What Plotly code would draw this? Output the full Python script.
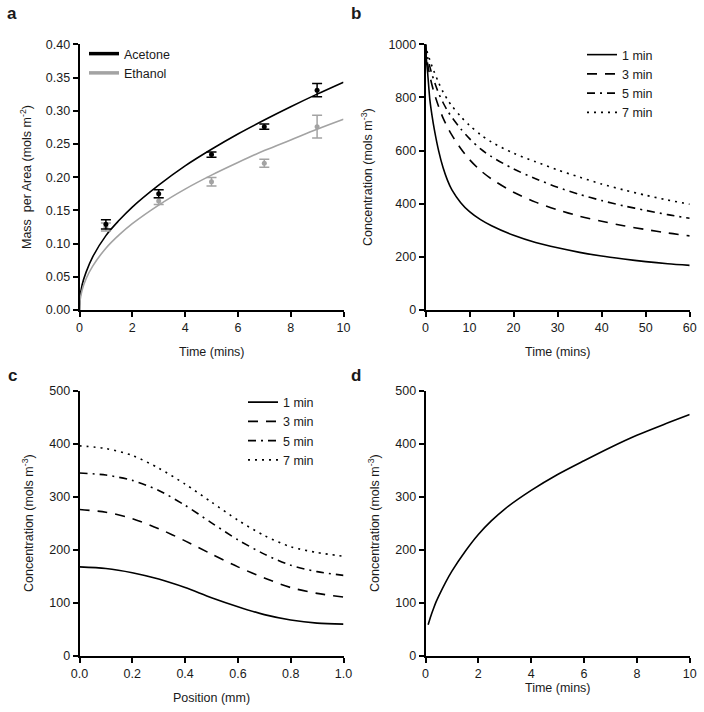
import plotly.graph_objects as go

# ---------------- data ----------------
# Panel a: measured points and fitted curves
pts_time = [1, 3, 5, 7, 9]
acetone_mean = [0.129, 0.175, 0.234, 0.276, 0.331]
acetone_err = [0.007, 0.006, 0.004, 0.004, 0.010]
ethanol_mean = [0.125, 0.164, 0.193, 0.221, 0.276]
ethanol_err = [0.006, 0.005, 0.0065, 0.006, 0.017]

fit_time = [0, 0.02, 0.1, 0.25, 0.5, 1, 1.5, 2, 3, 4, 5, 6, 7, 8, 9, 10]
acetone_fit = [0, 0.018, 0.038, 0.057, 0.080, 0.112, 0.135, 0.155, 0.188, 0.217,
               0.242, 0.265, 0.286, 0.306, 0.325, 0.343]
ethanol_fit = [0, 0.014, 0.030, 0.047, 0.066, 0.093, 0.113, 0.130, 0.158, 0.182,
               0.203, 0.222, 0.240, 0.256, 0.272, 0.287]

# Panel b: concentration vs time
b_time = [0, 0.25, 0.5, 1, 1.5, 2, 3, 4, 5, 6, 8, 10, 12.5, 15, 20, 25, 30, 35, 40, 45, 50, 55, 60]
b_1min = [1000, 935, 890, 790, 730, 680, 598, 535, 488, 452, 404, 370, 340, 317, 281, 254, 234, 217, 203, 192, 182, 174, 168]
b_3min = [1000, 955, 925, 880, 845, 815, 765, 722, 688, 658, 608, 566, 525, 493, 443, 406, 377, 353, 334, 317, 303, 290, 279]
b_5min = [1000, 970, 950, 915, 885, 860, 815, 780, 750, 725, 682, 645, 606, 577, 531, 494, 462, 435, 412, 392, 375, 359, 345]
b_7min = [1000, 980, 965, 940, 916, 895, 855, 820, 792, 768, 728, 695, 660, 632, 590, 558, 527, 500, 474, 452, 432, 414, 398]

# Panel c: concentration vs position
c_pos = [0, 0.1, 0.2, 0.3, 0.4, 0.5, 0.6, 0.7, 0.8, 0.9, 1.0]
c_1min = [168, 165, 157, 145, 129, 110, 93, 78, 68, 62, 60]
c_3min = [276, 271, 259, 240, 217, 192, 168, 147, 129, 118, 111]
c_5min = [345, 341, 331, 312, 284, 251, 219, 192, 171, 159, 152]
c_7min = [396, 391, 378, 354, 324, 290, 256, 227, 206, 195, 188]

# Panel d: concentration vs time
d_time = [0.1, 0.2, 0.3, 0.4, 0.5, 0.75, 1, 1.5, 2, 2.5, 3, 4, 5, 6, 7, 8, 9, 10]
d_conc = [59, 75, 89, 102, 113, 138, 160, 197, 229, 255, 277, 312, 342, 368, 393, 416, 436, 455]

series_labels = ["1 min", "3 min", "5 min", "7 min"]

# ---------------- styling ----------------
W, H = 704, 712
FONT = "Liberation Sans, Arial, sans-serif"
GREY = "#a3a3a3"
TXT = "#1a1a1a"
dashes = ["solid", "10px,8px", "8px,5px,2px,5px", "2px,5px"]


def px_x(v):
    return v / W


def px_y(v):
    return 1 - v / H


fig = go.Figure()

# ---- panel a ----
fig.add_trace(go.Scatter(x=fit_time, y=acetone_fit, mode="lines", line=dict(color="black", width=1.6, shape="spline"),
                         xaxis="x", yaxis="y", showlegend=False))
fig.add_trace(go.Scatter(x=fit_time, y=ethanol_fit, mode="lines", line=dict(color=GREY, width=1.6, shape="spline"),
                         xaxis="x", yaxis="y", showlegend=False))
fig.add_trace(go.Scatter(x=pts_time, y=ethanol_mean, mode="markers",
                         marker=dict(color=GREY, size=5),
                         error_y=dict(type="data", array=ethanol_err, color=GREY, thickness=1.5, width=5),
                         xaxis="x", yaxis="y", showlegend=False))
fig.add_trace(go.Scatter(x=pts_time, y=acetone_mean, mode="markers",
                         marker=dict(color="black", size=5),
                         error_y=dict(type="data", array=acetone_err, color="black", thickness=1.5, width=5),
                         xaxis="x", yaxis="y", showlegend=False))
# legend entries (thick sample lines)
fig.add_trace(go.Scatter(x=[None], y=[None], mode="lines", name="Acetone",
                         line=dict(color="black", width=3.5), xaxis="x", yaxis="y", legend="legend"))
fig.add_trace(go.Scatter(x=[None], y=[None], mode="lines", name="Ethanol",
                         line=dict(color=GREY, width=3.5), xaxis="x", yaxis="y", legend="legend"))

# ---- panel b ----
for lab, vals, dsh in zip(series_labels, [b_1min, b_3min, b_5min, b_7min], dashes):
    fig.add_trace(go.Scatter(x=b_time, y=vals, mode="lines", name=lab,
                             line=dict(color="black", width=1.6, dash=dsh, shape="spline", smoothing=0.8),
                             xaxis="x2", yaxis="y2", legend="legend2"))

# ---- panel c ----
for lab, vals, dsh in zip(series_labels, [c_1min, c_3min, c_5min, c_7min], dashes):
    fig.add_trace(go.Scatter(x=c_pos, y=vals, mode="lines", name=lab,
                             line=dict(color="black", width=1.6, dash=dsh, shape="spline", smoothing=0.8),
                             xaxis="x3", yaxis="y3", legend="legend3"))

# ---- panel d ----
fig.add_trace(go.Scatter(x=d_time, y=d_conc, mode="lines",
                         line=dict(color="black", width=1.6, shape="spline", smoothing=0.8),
                         xaxis="x4", yaxis="y4", showlegend=False))


def axis(domain, rng, tickvals, fmt=None, anchor=None):
    d = dict(domain=domain, range=rng, tickvals=tickvals, showgrid=False, zeroline=False,
             showline=True, linecolor="black", linewidth=1.6, ticks="outside", ticklen=5,
             tickwidth=1.6, tickcolor="black", tickfont=dict(family=FONT, size=12.5, color=TXT),
             anchor=anchor, fixedrange=True, automargin=False)
    if fmt:
        d["tickformat"] = fmt
    return d


xa_dom = [px_x(79.5), px_x(343.5)]
xb_dom = [px_x(425.5), px_x(689.7)]
ytop_dom = [px_y(310), px_y(44.3)]
ybot_dom = [px_y(656), px_y(390.7)]

leg_common = dict(xanchor="left", yanchor="top", font=dict(family=FONT, size=12.5, color=TXT),
                  tracegroupgap=0, borderwidth=0)

fig.update_layout(
    template="none",
    width=W, height=H, margin=dict(l=0, r=0, t=0, b=0, pad=0), autosize=False,
    paper_bgcolor="white", plot_bgcolor="white",
    font=dict(family=FONT, size=12.5, color=TXT),
    xaxis=axis(xa_dom, [0, 10], [0, 2, 4, 6, 8, 10], anchor="y"),
    yaxis=axis(ytop_dom, [0, 0.40], [0, 0.05, 0.10, 0.15, 0.20, 0.25, 0.30, 0.35, 0.40], ".2f", anchor="x"),
    xaxis2=axis(xb_dom, [0, 60], [0, 10, 20, 30, 40, 50, 60], anchor="y2"),
    yaxis2=axis(ytop_dom, [0, 1000], [0, 200, 400, 600, 800, 1000], anchor="x2"),
    xaxis3=axis(xa_dom, [0, 1.0], [0, 0.2, 0.4, 0.6, 0.8, 1.0], ".1f", anchor="y3"),
    yaxis3=axis(ybot_dom, [0, 500], [0, 100, 200, 300, 400, 500], anchor="x3"),
    xaxis4=axis(xb_dom, [0, 10], [0, 2, 4, 6, 8, 10], anchor="y4"),
    yaxis4=axis(ybot_dom, [0, 500], [0, 100, 200, 300, 400, 500], anchor="x4"),
    legend=dict(x=px_x(84), y=px_y(39), bgcolor="rgba(0,0,0,0)", **leg_common),
    legend2=dict(x=px_x(582), y=px_y(40), bgcolor="rgba(0,0,0,0)", **leg_common),
    legend3=dict(x=px_x(243), y=px_y(387.5), bgcolor="white", **leg_common),
)

annots = [
    # panel letters
    ("<b>a</b>", 12, 14, 0, 17),
    ("<b>b</b>", 356, 14, 0, 17),
    ("<b>c</b>", 12, 376, 0, 17),
    ("<b>d</b>", 356, 376, 0, 17),
    # x titles
    ("Time (mins)", 211.5, 352, 0, 12.5),
    ("Time (mins)", 557.6, 352, 0, 12.5),
    ("Position (mm)", 211.5, 698, 0, 12.5),
    ("Time (mins)", 557.6, 688, 0, 12.5),
    # y titles
    ("Mass\u00a0 per Area (mols m<sup>-2</sup>)", 26, 177, -90, 12.5),
    ("Concentration (mols m<sup>-3</sup>)", 367, 177, -90, 12.5),
    ("Concentration (mols m<sup>-3</sup>)", 28, 523, -90, 12.5),
    ("Concentration (mols m<sup>-3</sup>)", 374, 523, -90, 12.5),
]
for txt, xx, yy, ang, sz in annots:
    fig.add_annotation(text=txt, x=px_x(xx), y=px_y(yy), xref="paper", yref="paper",
                       xanchor="center", yanchor="middle", showarrow=False, textangle=ang,
                       font=dict(family=FONT, size=sz, color=TXT))

fig.write_html("out.html",
               config={"displayModeBar": False, "staticPlot": False},
               post_script="document.body.style.margin='0';document.body.style.padding='0';"
                           "document.documentElement.style.overflow='hidden';")
